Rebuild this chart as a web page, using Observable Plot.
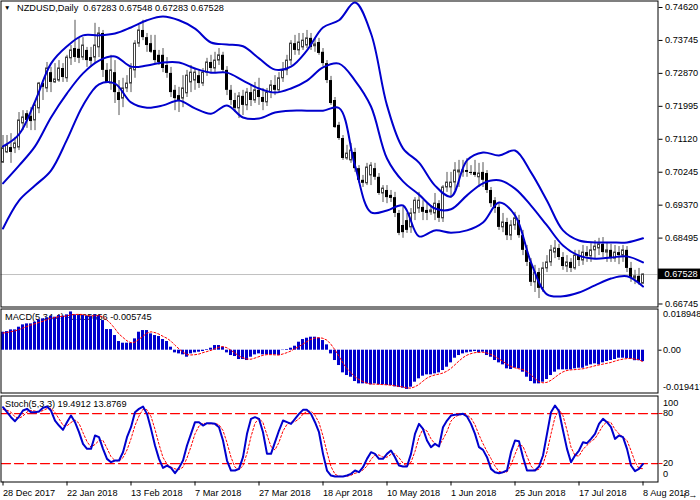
<!DOCTYPE html>
<html><head><meta charset="utf-8">
<script src="https://cdn.jsdelivr.net/npm/d3@7"></script>
<script src="https://cdn.jsdelivr.net/npm/@observablehq/plot@0.6"></script>
<style>
html,body{margin:0;padding:0;background:#fff;}
#chart{position:relative;width:700px;height:500px;overflow:hidden;}
#chart svg{position:absolute;left:0;top:0;}
#chart svg text{white-space:pre;}
</style></head><body><div id="chart"></div>
<script>
// ---- data ----
const opens = [.7050,.7077,.7090,.7088,.7090,.7154,.7180,.7173,.7162,.7194,
.7260,.7247,.7289,.7263,.7268,.7300,.7274,.7327,.7353,.7351,
.7329,.7348,.7329,.7329,.7356,.7393,.7295,.7260,.7289,.7236,
.7220,.7247,.7260,.7295,.7366,.7401,.7382,.7366,.7348,.7335,
.7335,.7308,.7287,.7242,.7228,.7220,.7234,.7263,.7268,.7281,
.7260,.7289,.7316,.7300,.7321,.7335,.7295,.7242,.7215,.7194,
.7226,.7202,.7236,.7215,.7242,.7223,.7210,.7236,.7255,.7242,
.7274,.7295,.7321,.7366,.7348,.7356,.7361,.7380,.7359,.7369,
.7343,.7313,.7268,.7215,.7149,.7114,.7061,.7056,.7077,.7034,
.7003,.6995,.7016,.7034,.7011,.6968,.6976,.6963,.6957,.6915,
.6883,.6896,.6878,.6915,.6928,.6931,.6923,.6918,.6915,.6941,
.6902,.6984,.6984,.6997,.7024,.7024,.7029,.7024,.7024,.7011,
.7024,.7021,.6976,.6949,.6931,.6878,.6891,.6856,.6883,.6896,
.6856,.6817,.6785,.6732,.6758,.6716,.6769,.6785,.6811,.6822,
.6798,.6774,.6785,.6769,.6803,.6790,.6811,.6801,.6817,.6822,
.6833,.6811,.6817,.6795,.6811,.6803,.6817,.6769,.6742,.6748,
.67283];
const highs = [.7122,.7122,.7127,.7117,.7183,.7188,.7188,.7196,.7210,.7263,
.7268,.7316,.7303,.7313,.7321,.7313,.7335,.7361,.7428,.7380,
.7382,.7356,.7356,.7420,.7409,.7401,.7313,.7335,.7321,.7268,
.7274,.7281,.7313,.7374,.7414,.7428,.7393,.7388,.7388,.7348,
.7353,.7329,.7303,.7255,.7250,.7281,.7295,.7308,.7300,.7295,
.7300,.7327,.7335,.7343,.7353,.7343,.7305,.7255,.7234,.7236,
.7242,.7247,.7255,.7263,.7274,.7247,.7247,.7268,.7281,.7289,
.7316,.7335,.7374,.7388,.7393,.7393,.7401,.7393,.7380,.7380,
.7353,.7321,.7279,.7223,.7157,.7122,.7096,.7101,.7088,.7042,
.7016,.7048,.7050,.7048,.7021,.6989,.6989,.6976,.6971,.6923,
.6931,.6915,.6928,.6957,.6971,.6949,.6941,.6936,.6968,.6949,
.6989,.7024,.7024,.7050,.7056,.7056,.7061,.7042,.7056,.7048,
.7050,.7029,.6984,.6957,.6941,.6915,.6902,.6896,.6918,.6910,
.6870,.6830,.6795,.6777,.6769,.6785,.6803,.6830,.6843,.6833,
.6811,.6803,.6795,.6817,.6817,.6830,.6827,.6835,.6843,.6849,
.6851,.6838,.6833,.6830,.6827,.6830,.6827,.6785,.6764,.6769,
.67548];
const lows = [.7048,.7074,.7048,.7074,.7082,.7135,.7141,.7135,.7135,.7180,
.7215,.7236,.7236,.7260,.7263,.7263,.7263,.7308,.7316,.7313,
.7321,.7303,.7303,.7313,.7329,.7276,.7260,.7242,.7207,.7175,
.7196,.7236,.7236,.7274,.7356,.7374,.7343,.7340,.7313,.7308,
.7289,.7274,.7223,.7188,.7183,.7196,.7223,.7236,.7242,.7247,
.7252,.7279,.7289,.7289,.7308,.7287,.7228,.7202,.7183,.7167,
.7175,.7188,.7199,.7207,.7202,.7188,.7199,.7220,.7228,.7236,
.7263,.7281,.7308,.7335,.7335,.7348,.7353,.7348,.7343,.7335,
.7305,.7260,.7202,.7141,.7109,.7056,.7056,.7048,.7024,.6995,
.6984,.6989,.6989,.7003,.6963,.6944,.6941,.6944,.6904,.6856,
.6849,.6862,.6862,.6896,.6915,.6896,.6896,.6910,.6896,.6891,
.6891,.6971,.6955,.6976,.6984,.7011,.7011,.7016,.7011,.6984,
.6984,.6968,.6931,.6915,.6870,.6864,.6843,.6843,.6870,.6849,
.6803,.6774,.6721,.6705,.6689,.6705,.6758,.6774,.6795,.6790,
.6764,.6758,.6758,.6764,.6774,.6777,.6785,.6785,.6795,.6803,
.6798,.6785,.6785,.6785,.6779,.6785,.6758,.6732,.6726,.6724,
.67283];
const closes = [.7088,.7096,.7077,.7101,.7162,.7170,.7162,.7159,.7202,.7260,
.7250,.7300,.7263,.7271,.7300,.7276,.7329,.7348,.7329,.7327,
.7361,.7321,.7319,.7361,.7393,.7295,.7263,.7295,.7236,.7215,
.7247,.7260,.7300,.7366,.7401,.7382,.7361,.7343,.7321,.7316,
.7300,.7287,.7236,.7220,.7215,.7247,.7281,.7289,.7289,.7260,
.7289,.7316,.7300,.7321,.7335,.7295,.7242,.7215,.7194,.7226,
.7202,.7236,.7215,.7242,.7223,.7210,.7236,.7255,.7242,.7274,
.7295,.7321,.7366,.7348,.7369,.7374,.7380,.7356,.7364,.7340,
.7313,.7268,.7207,.7143,.7114,.7061,.7074,.7082,.7034,.7003,
.6995,.7037,.7042,.7011,.6968,.6981,.6957,.6955,.6915,.6862,
.6864,.6870,.6915,.6949,.6949,.6918,.6915,.6923,.6941,.6902,
.6984,.6997,.6997,.7029,.7029,.7029,.7024,.7021,.7016,.7021,
.7003,.6976,.6941,.6928,.6878,.6891,.6856,.6883,.6902,.6856,
.6817,.6785,.6732,.6758,.6716,.6769,.6785,.6817,.6822,.6798,
.6774,.6785,.6769,.6803,.6790,.6811,.6801,.6817,.6827,.6833,
.6811,.6817,.6795,.6811,.6803,.6817,.6769,.6742,.6748,.6729,
.67528];

// Bollinger bands (20,2) read at every 4th bar
const bandIdx = [0,4,8,12,16,20,24,28,32,36,40,44,48,52,56,60,64,68,72,76,80,84,88,92,96,100,104,108,112,116,120,124,128,132,136,140,144,148,152,156,160];
const bandUpper = [.7093,.7125,.7212,.7313,.7359,.7388,.7388,.7393,.7409,.7428,.7438,.7428,.7406,.7369,.7364,.7359,.7327,.7297,.7305,.7348,.7409,.7428,.7475,.7393,.7202,.7088,.7050,.6989,.6960,.7056,.7077,.7069,.7082,.7024,.6949,.6870,.6843,.6838,.6838,.6838,.6849];
const bandMiddle = [.6995,.7042,.7093,.7170,.7234,.7287,.7321,.7332,.7305,.7308,.7316,.7316,.7300,.7289,.7289,.7268,.7247,.7236,.7247,.7268,.7303,.7313,.7268,.7199,.7061,.7000,.6965,.6928,.6926,.6963,.6995,.7003,.6981,.6936,.6883,.6830,.6803,.6795,.6798,.6801,.6785];
const bandLower = [.6875,.6949,.6989,.7029,.7111,.7202,.7258,.7260,.7210,.7196,.7202,.7215,.7194,.7180,.7202,.7170,.7167,.7183,.7188,.7188,.7188,.7195,.7042,.6918,.6923,.6936,.6854,.6870,.6864,.6870,.6891,.6944,.6910,.6785,.6700,.6695,.6705,.6724,.6742,.6748,.6721];

// MACD(5,34,4)
const macdMain = [.00891,.00923,.01006,.01006,.01139,.01254,.01303,.01303,.01386,.01501,
.01551,.016,.01683,.01634,.01716,.01683,.01749,.018948,.01749,.01716,
.01716,.01683,.01683,.01749,.01716,.01468,.01022,.01022,.00726,.00429,
.00347,.00347,.00347,.00561,.00891,.00973,.00973,.00808,.00726,.00677,
.00528,.00429,.00149,-.00132,-.00182,-.00231,-.00347,-.00182,-.00132,-.00099,
-.00066,.00033,.00099,.00231,.00231,.00149,-.00132,-.00264,-.00313,-.00462,
-.00462,-.00511,-.00347,-.00231,-.00182,-.00231,-.00231,-.00231,-.00231,-.00264,
-.00016,.00033,.00099,.00198,.00396,.00528,.00594,.00644,.00644,.00594,
.00479,.00264,-.00182,-.00511,-.00759,-.01121,-.01254,-.01337,-.01551,-.01666,
-.01666,-.01666,-.01716,-.01666,-.01716,-.01716,-.01749,-.01749,-.01815,-.01848,
-.0188,-.019417,-.01832,-.01584,-.01418,-.01287,-.0122,-.0122,-.01171,-.01121,
-.01006,-.00842,-.00627,-.00396,-.00264,-.00182,-.00132,-.00099,-.00066,-.00132,
-.00099,-.00264,-.00347,-.00511,-.00627,-.00726,-.00923,-.00957,-.00891,-.00923,
-.01089,-.01337,-.01551,-.01666,-.01666,-.01584,-.01452,-.01254,-.01089,-.00973,
-.00973,-.00973,-.00973,-.00923,-.00891,-.00891,-.00792,-.00726,-.00676,-.00726,
-.00627,-.00561,-.00511,-.00462,-.00396,-.00396,-.0041,-.0044,-.0052,-.0052,
-.005656];
const macdSignal = [.0085,.0088,.0092,.00957,.01019,.01101,.01176,.0125,.01312,.01373,
.01435,.0151,.01584,.01617,.01658,.01679,.01696,.0176,.01768,.01776,
.01768,.01716,.017,.01708,.01708,.01654,.01489,.01307,.0106,.008,
.00631,.00462,.00368,.004,.00537,.00693,.0085,.00911,.0087,.00796,
.00685,.0059,.00446,.00244,.00066,-.00099,-.00223,-.00236,-.00223,-.0019,
-.0012,-.00066,-.00008,.00074,.00149,.00178,.0012,-.00004,-.0014,-.00293,
-.00375,-.00437,-.00446,-.00388,-.00318,-.00248,-.00219,-.00219,-.00231,-.0024,
-.00186,-.0012,-.00037,.00079,.00182,.00305,.00429,.0054,.00603,.00619,
.0059,.00495,.00289,.00013,-.00297,-.00643,-.00911,-.01118,-.01316,-.01452,
-.01555,-.01637,-.01679,-.01679,-.01691,-.01704,-.01712,-.01733,-.01757,-.0179,
-.01823,-.01871,-.01876,-.0181,-.01694,-.0153,-.01377,-.01286,-.01225,-.01183,
-.0113,-.01035,-.00899,-.00718,-.00532,-.00367,-.00244,-.00169,-.0012,-.00107,
-.00099,-.0014,-.00211,-.00305,-.00437,-.00553,-.00697,-.00808,-.00874,-.00924,
-.00965,-.0106,-.01225,-.01411,-.01555,-.01617,-.01592,-.01489,-.01345,-.01192,
-.01072,-.01002,-.00973,-.00961,-.0094,-.0092,-.00874,-.00825,-.00771,-.0073,
-.00689,-.00648,-.00606,-.0054,-.00483,-.00441,-.00416,-.0041,-.00442,-.00473,
-.005745];

// Stochastic(5,3,3)
const stochMain = [87.6,81.6,75.6,70.8,76.4,83.6,85.6,81.6,81.6,82.4,
86.8,88.4,83.6,71.6,65.6,60.4,69.6,77.6,69.6,57.6,
43.6,37.6,37.6,53.6,51.6,37.6,25.6,21.6,23.6,23.6,
33.6,51.6,63.6,81.6,85.6,88.4,79.6,61.6,41.6,25.6,
14.8,17.6,14.8,8.4,14.8,23.6,41.6,55.6,69.6,69.6,
65.6,68.4,68.4,67.6,63.6,47.6,23.6,11.6,11.6,13.6,
27.6,55.6,73.6,75.6,73.6,57.6,31.6,31.6,45.6,59.6,
71.6,69.6,67.6,73.6,79.6,84.4,84.4,79.6,69.6,57.6,
31.6,11.6,5.6,4.4,4.4,4.4,5.6,7.6,11.6,9.6,
15.6,25.6,33.6,31.6,25.6,25.6,31.6,35.6,27.6,17.6,
16.4,16.4,31.6,55.6,67.6,61.6,47.6,39.6,43.6,40.4,
63.6,71.6,77.6,78.4,78.8,79.6,76.4,67.6,55.6,39.6,
36.4,27.6,13.6,9.6,8.4,9.6,11.6,33.6,47.6,46.8,
27.6,11.6,11.6,11.6,16.4,29.6,55.6,81.6,89.6,82.8,
59.6,37.6,21.6,29.6,35.6,45.6,44.4,49.6,55.6,67.6,
73.6,69.6,63.6,49.6,53.6,51.6,37.6,17.6,10.8,13.6,
19.4912];
const stochSignal = [85,84,81.6,76,74.3,76.9,81.9,83.6,83,81.9,
83.6,85.9,86.3,81.2,73.6,65.9,65.2,69.2,72.3,68.3,
57,46.3,39.6,42.9,47.6,47.6,38.3,28.3,23.6,23,
27,36.3,49.6,65.6,77,85.2,84.5,76.5,61,43,
27.3,19.3,15.7,13.6,12.7,15.6,26.7,40.3,55.6,65,
68.3,67.9,67.5,68.1,66.5,59.6,45,27.6,15.6,12.3,
17.6,32.3,52.3,68.3,74.3,69,54.3,40.3,36.3,45.6,
59,67,69.6,70.3,73.6,79.2,82.8,82.8,77.9,69,
53,33.6,16.3,7.2,4.8,4.4,4.8,5.9,8.3,9.6,
12.3,17,25,30.3,30.3,27.6,27.6,31,31.6,27,
20.5,16.8,21.5,34.5,51.6,61.6,59,49.6,43.6,41.2,
49.2,58.5,71,75.9,78.3,78.9,78.3,74.5,66.5,54.3,
43.9,34.5,25.9,17,10.5,9.2,9.9,18.3,31,42.7,
40.7,28.7,17,11.6,13.2,19.2,33.9,55.6,75.6,84.7,
77.3,60,39.6,29.6,29,37,41.9,46.5,49.9,57.6,
65.6,70.3,69,61,55.6,51.6,47.6,35.6,22,14,
13.8769];
const stochLevels = [80, 20];

// axes
const priceTicks = [0.74620,0.73745,0.72870,0.71995,0.71120,0.70245,0.69370,0.68495,0.66745];
const macdTicksTop = [0.018948], macdTicksZero = [0], macdTicksBottom = [-0.019417];
const dateTickIdx = [0,16,32,48,64,80,96,112,128,144,160];
const dateTickLabels = ["28 Dec 2017","22 Jan 2018","13 Feb 2018","7 Mar 2018","27 Mar 2018","18 Apr 2018","10 May 2018","1 Jun 2018","25 Jun 2018","17 Jul 2018","8 Aug 2018"];
const symbol = "NZDUSD,Daily";

// ---- build ----
const last = opens.length - 1;
const lastPrice = closes[last];
const bars = opens.map((o,i)=>({i, o, h:highs[i], l:lows[i], c:closes[i]}));
const bands = bandIdx.map((i,k)=>({i, u:bandUpper[k], m:bandMiddle[k], l:bandLower[k]}));
const macd = macdMain.map((v,i)=>({i, v, s:macdSignal[i]}));
const stoch = stochMain.map((v,i)=>({i, v, s:stochSignal[i]}));

const FONT = '"Liberation Sans", Arial, sans-serif';
const FS = 9.2;
const BLUE = "#0000CD";
const RED = "#FF0000";
const xDom = [-0.375, 163.625];
const X = {domain:xDom, range:[1,657], axis:null};
const base = {width:700, height:500, marginLeft:0.5, marginRight:42.5,
  style:{background:"transparent", fontFamily:FONT, fontSize:FS+"px", color:"#000"}};
// level lines as two-point segments spanning the panel
const levelPts = stochLevels.flatMap(v => [{i:xDom[0], v}, {i:xDom[1], v}]);

const mainPlot = Plot.plot({...base, marginTop:0.5, marginBottom:193.5,
  x:X, y:{domain:[0.666785,0.747794], range:[306,1], axis:null},
  marks:[
    Plot.ruleY([lastPrice], {stroke:"#c0c0c0"}),
    Plot.ruleX(bars, {x:"i", y1:"l", y2:"h", stroke:"#555", clip:true}),
    Plot.rect(bars.filter(d=>d.c<d.o), {x1:d=>d.i-0.375, x2:d=>d.i+0.375, y1:"o", y2:"c", fill:"#000", inset:0, clip:true}),
    Plot.rect(bars.filter(d=>d.c>=d.o), {x1:d=>d.i-0.25, x2:d=>d.i+0.25, y1:"o", y2:"c", fill:"#fff", stroke:"#444", inset:0, clip:true}),
    Plot.line(bands, {x:"i", y:"u", stroke:BLUE, strokeWidth:2, curve:"catmull-rom", clip:true}),
    Plot.line(bands, {x:"i", y:"m", stroke:BLUE, strokeWidth:2, curve:"catmull-rom", clip:true}),
    Plot.line(bands, {x:"i", y:"l", stroke:BLUE, strokeWidth:2, curve:"catmull-rom", clip:true}),
    Plot.frame({stroke:"#000"}),
    Plot.axisY(priceTicks, {anchor:"right", tickSize:4, tickPadding:3, tickFormat:d=>d.toFixed(5), fontSize:FS}),
    Plot.rect([lastPrice], {x1:xDom[1]+0.25, x2:xDom[1]+10.75, y1:d=>d+0.00145, y2:d=>d-0.00135, fill:"#000", inset:0}),
    Plot.text([lastPrice], {x:xDom[1]+1.75, y:d=>d, text:d=>d.toFixed(5), fill:"#fff", textAnchor:"start", fontSize:FS}),
    Plot.text(["\u25BC"], {frameAnchor:"top-left", dx:3, dy:4, lineAnchor:"top", textAnchor:"start", fontSize:6.5}),
    Plot.text([`${symbol}  ${opens[last].toFixed(5)} ${highs[last].toFixed(5)} ${lows[last].toFixed(5)} ${closes[last].toFixed(5)}`],
      {frameAnchor:"top-left", dx:16, dy:3, lineAnchor:"top", textAnchor:"start", fontSize:FS})
  ]});

const macdPlot = Plot.plot({...base, marginTop:308.5, marginBottom:107.5,
  x:X, y:{domain:[-0.02119,0.0204], range:[392.5,308.5], axis:null},
  marks:[
    Plot.text([`MACD(5,34,4) ${macdMain[last].toFixed(6)} ${macdSignal[last].toFixed(6)}`],
      {frameAnchor:"top-left", dx:4, dy:4.5, lineAnchor:"top", textAnchor:"start", fontSize:FS}),
    Plot.rect(macd, {x1:d=>d.i-0.375, x2:d=>d.i+0.375, y1:0, y2:"v", fill:BLUE, inset:0}),
    Plot.line(macd, {x:"i", y:"s", stroke:RED, strokeWidth:1, strokeDasharray:"2,2"}),
    Plot.frame({stroke:"#000"}),
    Plot.axisY(macdTicksTop, {anchor:"right", tickSize:0, tickPadding:5, dy:2, tickFormat:d=>d.toFixed(6), fontSize:FS}),
    Plot.axisY(macdTicksZero, {anchor:"right", tickSize:3, tickPadding:2, tickFormat:()=>"0.00", fontSize:FS}),
    Plot.axisY(macdTicksBottom, {anchor:"right", tickSize:0, tickPadding:5, dy:-2, tickFormat:d=>d.toFixed(6), fontSize:FS})
  ]});

const stochPlot = Plot.plot({...base, marginTop:395.5, marginBottom:18.5,
  x:X, y:{domain:[-2.16,101.03], range:[481.5,395.5], axis:null},
  marks:[
    Plot.text([`Stoch(5,3,3) ${stochMain[last].toFixed(4)} ${stochSignal[last].toFixed(4)}`],
      {frameAnchor:"top-left", dx:4, dy:4, lineAnchor:"top", textAnchor:"start", fontSize:FS}),
    Plot.line(levelPts, {x:"i", y:"v", z:"v", stroke:RED, strokeOpacity:1, strokeWidth:1.3, strokeDasharray:"9,4"}),
    Plot.line(stoch, {x:"i", y:"s", stroke:RED, strokeWidth:1, strokeDasharray:"2,2"}),
    Plot.line(stoch, {x:"i", y:"v", stroke:BLUE, strokeWidth:2}),
    Plot.frame({stroke:"#000"}),
    Plot.axisY([100], {anchor:"right", tickSize:0, tickPadding:5, dy:6, fontSize:FS}),
    Plot.axisY(stochLevels, {anchor:"right", tickSize:4, tickPadding:1, stroke:RED, fontSize:FS}),
    Plot.axisY([0], {anchor:"right", tickSize:0, tickPadding:5, dy:-6.5, fontSize:FS}),
    Plot.axisX(dateTickIdx, {anchor:"bottom", tickSize:4, tickPadding:3, textAnchor:"start",
      tickFormat:i=>dateTickLabels[dateTickIdx.indexOf(i)], fontSize:FS})
  ]});

const root = document.getElementById("chart");
root.append(mainPlot, macdPlot, stochPlot);
</script></body></html>
